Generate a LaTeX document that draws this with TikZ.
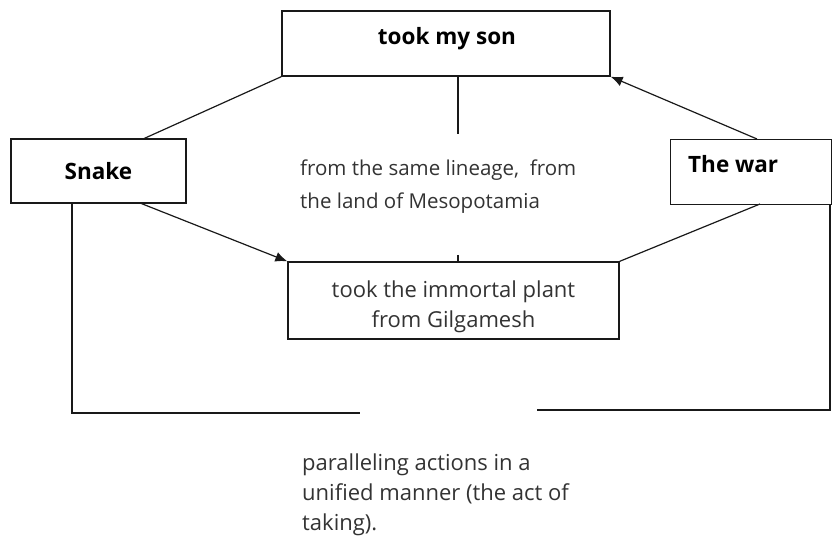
\documentclass[tikz,border=0pt]{standalone}
\usepackage{fontspec}
\setmainfont{Open Sans}
\usetikzlibrary{arrows.meta,calc}
\begin{document}
\begin{tikzpicture}[x=1pt,y=-1pt,
  box/.style={draw=black!90, line width=1.3pt, fill=white, inner sep=0pt},
  conn/.style={draw=black!90, line width=1.2pt},
  tip/.style={-{Latex[length=12pt,width=10pt]}},
  txt/.style={text=black!80, font=\fontsize{22}{30}\selectfont, align=left, inner sep=0pt},
  btxt/.style={text=black, font=\fontsize{22.5}{24}\selectfont\bfseries, inner sep=0pt}]
\useasboundingbox (0,0) rectangle (832,537);
% boxes
\node[box, minimum width=328pt, minimum height=65pt] (top) at (446,43.5) {};
\node[btxt] (toptext) at (447,39) {took my son};
\node[box, minimum width=175pt, minimum height=64pt] (snake) at (98.5,171) {};
\node[btxt] (snaketext) at (98.5,171) {Snake};
\node[box, minimum width=161pt, minimum height=65pt, anchor=north west] (war) at (670,139) {};
\node[btxt, anchor=west] (wartext) at (688,164) {The war};
\node[box, minimum width=331pt, minimum height=77pt] (plant) at (453.5,300.5) {};
\node[txt, align=center, font=\fontsize{22}{30}\selectfont] (planttext) at (453.5,307) {took the immortal plant\\from Gilgamesh};
% free texts
\node[txt, anchor=north west, font=\fontsize{20.5}{33}\selectfont] (lineage) at (300,160) {from the same lineage,\ \ from\\the land of Mesopotamia};
\node[txt, anchor=north west] (parallel) at (302,454) {paralleling actions in a\\unified manner (the act of\\taking).};
% coordinates
\coordinate (m1) at (458,134);
\coordinate (m2) at (458,255);
\coordinate (s1) at (143,139);
\coordinate (s2) at (140,203);
\coordinate (s3) at (72,203);
\coordinate (w1) at (757,139);
\coordinate (w2) at (760,204);
\coordinate (lb) at (72,413);
\coordinate (le) at (360,413);
\coordinate (rb) at (830,410);
\coordinate (re) at (537,410);
% connectors
\draw[conn] (top.south -| m1) -- (m1);
\draw[conn] (m2) -- (plant.north -| m2);
\draw[conn] (s1) -- (top.south west);
\draw[conn, tip] (s2) -- (plant.north west);
\draw[conn, tip] (w1) -- (top.south east);
\draw[conn] (w2) -- (plant.north east);
\draw[conn] (s3) -- (lb) -- (le);
\draw[conn] (war.south east -| rb) -- (rb) -- (re);
\end{tikzpicture}
\end{document}
